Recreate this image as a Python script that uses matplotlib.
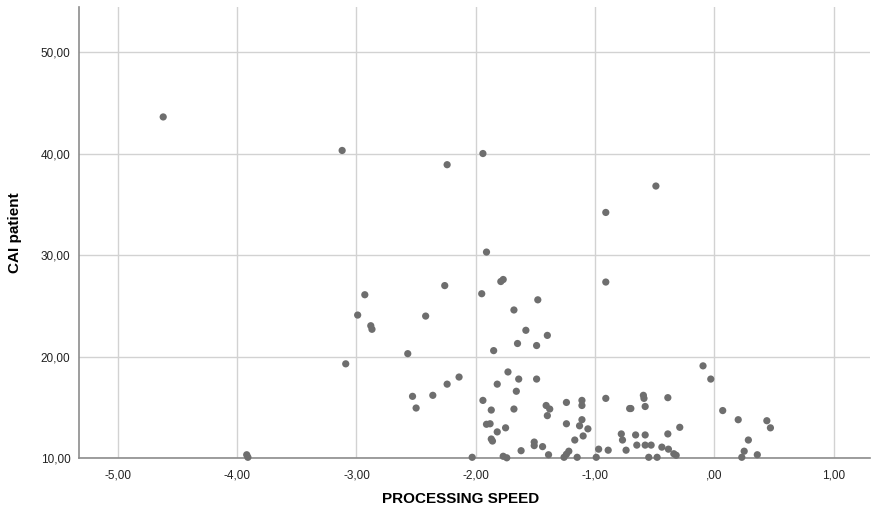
import matplotlib
matplotlib.use("Agg")
import matplotlib.pyplot as plt
from matplotlib.ticker import FuncFormatter, MultipleLocator

processing_speed = [
    -4.62, -3.92, -3.91, -3.12, -1.94, -2.24, -1.91, -1.77, -1.79, -2.26,
    -2.93, -1.95, -1.48, -2.99, -2.42, -1.68, -2.88, -2.87, -1.58, -1.40,
    -1.65, -1.49, -1.85, -2.57, -3.09, -1.73, -1.64, -1.49, -2.14, -2.24,
    -1.82, -1.66, -2.53, -2.36, -2.50, -1.94, -1.87, -1.68, -1.41, -1.38,
    -1.40, -1.24, -1.11, -1.11, -1.91, -1.88, -1.75, -1.82, -1.24, -1.11,
    -1.13, -1.06, -1.10, -1.17, -1.87, -1.86, -1.51, -1.51, -1.44, -1.62,
    -1.22, -1.24, -1.39, -0.97, -2.03, -1.77, -1.74, -1.26, -1.15, -0.99,
    -0.49, -0.91, -0.91, -0.095, -0.03, -0.91, -0.595, -0.59, -0.39, -0.71,
    -0.70, -0.58, 0.07, 0.20, 0.44, 0.47, -0.29, -0.78, -0.77, -0.66,
    -0.58, -0.39, 0.285, -0.65, -0.58, -0.53, -0.44, -0.385, -0.89, -0.74,
    -0.34, -0.32, 0.25, 0.36, -0.55, -0.48, 0.23,
]
cai_patient = [
    43.6, 10.35, 10.1, 40.3, 40.0, 38.9, 30.3, 27.6, 27.4, 27.0,
    26.1, 26.2, 25.6, 24.1, 24.0, 24.6, 23.05, 22.7, 22.6, 22.1,
    21.3, 21.1, 20.6, 20.3, 19.3, 18.5, 17.8, 17.8, 18.0, 17.3,
    17.3, 16.6, 16.1, 16.2, 14.95, 15.7, 14.75, 14.85, 15.2, 14.85,
    14.2, 15.5, 15.7, 15.2, 13.35, 13.4, 13.0, 12.6, 13.4, 13.8,
    13.2, 12.9, 12.2, 11.8, 11.9, 11.7, 11.6, 11.25, 11.15, 10.75,
    10.7, 10.4, 10.35, 10.9, 10.1, 10.2, 10.05, 10.1, 10.1, 10.1,
    36.8, 34.2, 27.35, 19.1, 17.8, 15.9, 16.2, 15.9, 15.97, 14.9,
    14.9, 15.1, 14.7, 13.8, 13.7, 13.0, 13.05, 12.4, 11.8, 12.3,
    12.3, 12.4, 11.8, 11.3, 11.3, 11.3, 11.1, 10.9, 10.8, 10.8,
    10.45, 10.3, 10.7, 10.35, 10.1, 10.1, 10.1,
]
x_label = "PROCESSING SPEED"
y_label = "CAI patient"

plt.rcParams['font.family'] = ['Liberation Sans', 'DejaVu Sans']

fig = plt.figure(figsize=(8.71, 5.16), dpi=100)
ax = fig.add_axes([0.0904, 0.1118, 0.9085, 0.8746])

ax.scatter(processing_speed, cai_patient, s=27, color='#6e6e6e', edgecolors='none', zorder=3, clip_on=False)

ax.set_xlim(-5.328, 1.305)
ax.set_ylim(10, 54.42)
ax.xaxis.set_major_locator(MultipleLocator(1.0))
ax.yaxis.set_major_locator(MultipleLocator(10.0))

def fmt(v, pos):
    s = f"{v:.2f}".replace('.', ',')
    if s.startswith('0,'):
        s = s[1:]
    elif s.startswith('-0,'):
        s = s[2:] if abs(v) < 1e-9 else '-' + s[2:]
    return s

ax.xaxis.set_major_formatter(FuncFormatter(fmt))
ax.yaxis.set_major_formatter(FuncFormatter(fmt))

ax.grid(True, color='#d2d2d2', linewidth=1.0, zorder=0)
ax.set_axisbelow(True)
for side in ['top', 'right']:
    ax.spines[side].set_visible(False)
for side in ['left', 'bottom']:
    ax.spines[side].set_color('#8c8c8c')
    ax.spines[side].set_linewidth(1.2)

ax.tick_params(axis='both', length=0, labelsize=8.5, colors='#222222', pad=6)
ax.tick_params(axis='x', pad=8)

ax.set_xlabel(x_label, fontsize=11, fontweight='bold')
ax.set_ylabel(y_label, fontsize=11, fontweight='bold')
ax.xaxis.set_label_coords(0.482, -0.075)
ax.yaxis.set_label_coords(-0.072, 0.5)

fig.savefig('out.png', dpi=100)
